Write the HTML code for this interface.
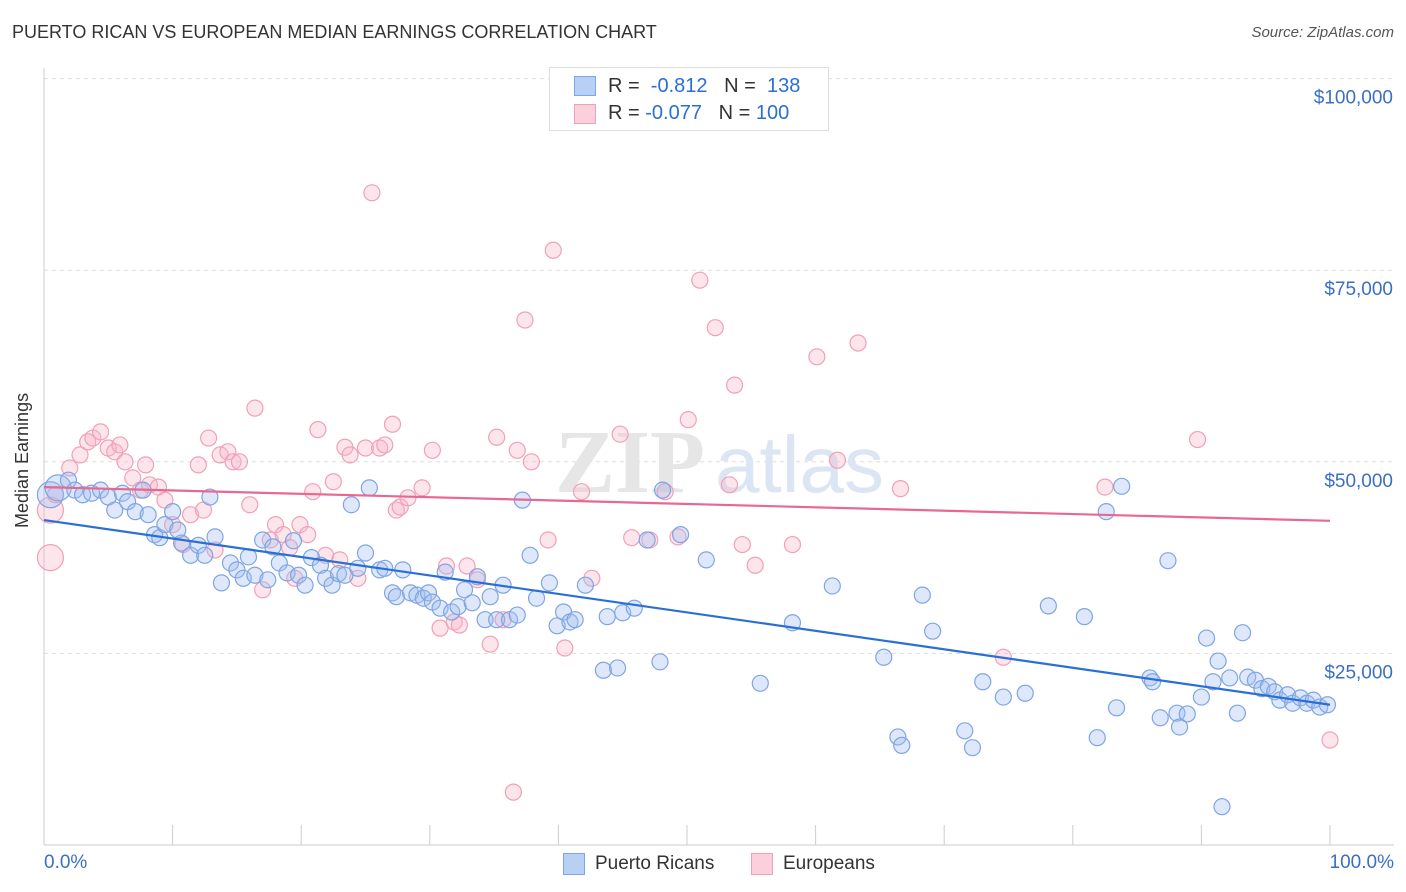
<!DOCTYPE html>
<html><head><meta charset="utf-8"><style>
body{margin:0;background:#fff;font-family:"Liberation Sans",sans-serif}
#wrap{position:relative;width:1406px;height:892px;overflow:hidden}
.t{position:absolute;white-space:nowrap}
</style></head><body>
<div id="wrap">
<div class="t" style="left:12px;top:22px;font-size:18px;color:#333">PUERTO RICAN VS EUROPEAN MEDIAN EARNINGS CORRELATION CHART</div>
<div class="t" style="right:12px;top:24px;font-size:15px;color:#555;font-style:italic">Source: ZipAtlas.com</div>
<svg id="svg" width="1406" height="892" style="position:absolute;left:0;top:0"></svg>
</div>
<script>
const bx=[0.5,1.1,1.9,2.4,3.0,3.7,4.4,5.0,5.5,6.1,6.5,7.1,7.7,8.1,8.6,9.0,9.4,10.0,10.4,10.7,11.4,12.0,12.5,12.9,13.3,13.8,14.5,15.0,15.5,15.9,16.4,17.0,17.4,17.8,18.3,18.9,19.4,19.8,20.3,20.8,21.5,21.9,22.4,22.9,23.4,23.9,24.4,25.0,25.3,26.1,26.5,27.1,27.4,27.9,28.5,29.0,29.5,29.9,30.2,30.8,31.2,31.7,32.2,32.7,33.3,33.7,34.3,34.7,35.2,35.7,36.2,36.8,37.2,37.8,38.3,39.3,39.9,40.4,40.9,41.3,42.1,43.5,43.8,44.6,45.0,45.9,46.9,47.9,48.1,49.5,51.5,55.7,58.2,61.3,65.3,66.4,66.7,68.3,69.1,71.6,72.2,73.0,74.6,76.3,78.1,80.9,81.9,82.6,83.4,83.8,86.0,86.2,86.8,87.4,88.1,88.3,88.9,90.0,90.4,90.9,91.3,91.6,92.2,92.8,93.2,93.6,94.2,94.7,95.2,95.7,96.1,96.7,97.1,97.7,98.2,98.7,99.2,99.8];
const by=[45.7,46.6,47.6,46.3,45.7,45.9,46.3,45.4,43.7,45.9,44.8,43.5,46.3,43.1,40.5,40.1,41.8,43.5,41.1,39.4,37.8,39.1,37.8,45.4,40.2,34.2,36.8,35.9,34.8,37.6,35.2,39.8,34.6,38.9,36.8,35.5,39.7,35.2,33.9,37.5,36.5,34.8,33.9,35.4,35.2,44.4,36.1,38.1,46.6,35.9,36.1,32.9,32.4,35.9,32.9,32.6,32.2,32.9,31.7,30.9,35.6,30.4,31.1,33.3,31.6,35.0,29.4,32.4,29.4,33.9,29.4,30.0,45.0,37.8,32.2,34.2,28.6,30.4,29.1,29.4,33.9,22.8,29.8,23.1,30.3,30.9,39.8,23.9,46.3,40.5,37.2,21.1,29.0,33.8,24.5,14.1,13.0,32.6,27.9,14.9,12.7,21.3,19.3,19.8,31.2,29.8,14.0,43.5,17.9,46.8,21.8,21.3,16.6,37.1,17.2,15.4,17.1,19.3,27.0,21.3,24.0,5.0,21.8,17.2,27.7,21.9,21.5,20.4,20.7,20.0,18.9,19.6,18.5,19.2,18.5,18.9,18.0,18.3];
const px=[0.5,0.5,0.9,2.0,2.8,3.4,3.8,4.4,5.0,5.5,5.9,6.3,6.9,7.5,7.9,8.2,8.9,9.4,10.0,10.8,11.4,12.0,12.4,12.8,13.3,13.7,14.3,14.7,15.2,16.0,16.4,17.0,17.6,18.0,18.6,19.1,19.5,19.9,20.5,20.9,21.3,21.9,22.5,23.0,23.4,23.8,24.4,25.0,25.5,26.1,26.5,27.1,27.4,27.7,28.3,29.4,30.2,30.8,31.3,31.9,32.3,32.9,33.7,34.7,35.2,35.7,36.5,36.8,37.4,37.9,39.2,39.6,40.5,41.8,42.6,44.8,45.7,47.1,48.3,49.3,50.1,51.0,52.2,53.3,53.7,54.3,55.3,58.2,60.1,61.7,63.3,66.6,74.6,82.5,89.7,100];
const py=[43.7,37.5,45.7,49.2,50.9,52.6,53.1,53.9,51.8,51.3,52.2,50.0,47.9,46.3,49.6,47.0,46.7,45.0,41.8,39.2,43.1,49.6,43.7,53.1,38.5,50.9,51.3,50.0,50.0,44.4,57.0,33.3,39.8,41.8,40.5,38.8,34.8,41.8,40.5,46.1,54.2,37.8,47.4,37.2,51.9,50.9,34.8,51.8,85.1,51.8,52.2,54.9,43.7,44.1,45.3,46.6,51.5,28.3,36.4,29.1,28.7,36.4,34.6,26.2,53.2,29.4,6.9,51.5,68.5,50.0,39.8,77.6,25.7,46.1,34.8,53.6,40.1,39.8,46.1,40.2,55.5,73.7,67.5,47.0,60.0,39.2,36.5,39.2,63.7,50.2,65.5,46.5,24.5,46.7,52.9,13.7];
const blueTrend=[42.4,18.3];
const pinkTrend=[46.7,42.3];
const yTicks=[25,50,75,100];
const yTickLabels=["$25,000","$50,000","$75,000","$100,000"];
const X0=44,X1=1330,Y0=845,PXK=191.6/25;
const sx=v=>X0+(X1-X0)*v/100, sy=v=>Y0-v*PXK;
const S=document.getElementById('svg'),NS='http://www.w3.org/2000/svg';
function mk(t,a,p){const e=document.createElementNS(NS,t);for(const k in a)e.setAttribute(k,a[k]);(p||S).appendChild(e);return e;}
// grid
yTicks.forEach((v,i)=>{
 const g=mk('line',{x1:X0,x2:1394,y1:sy(v),y2:sy(v),stroke:'#ddd','stroke-dasharray':'4,4'});
 
 
 const t=mk('text',{x:1393,y:sy(v)+25,'text-anchor':'end','font-size':19,fill:'#3b6fc4','font-family':'Liberation Sans'});
 t.textContent=yTickLabels[i];
 
 
});
mk('line',{x1:X0,x2:X0,y1:68,y2:Y0,stroke:'#ccc'});
mk('line',{x1:X0,x2:1394,y1:Y0,y2:Y0,stroke:'#ccc'});
for(let i=0;i<=10;i++){const l=mk('line',{x1:sx(i*10),x2:sx(i*10),y1:825,y2:Y0,stroke:'#ccc'});
 
 }
// watermark
const w=mk('text',{x:555,y:492,'font-size':90,fill:'#e6e6e6','font-family':'Liberation Serif','font-weight':'bold'});w.textContent='ZIP';
const w2=mk('text',{x:715,y:492,'font-size':80,fill:'#dbe5f3','font-family':'Liberation Sans'});w2.textContent='atlas';
function dots(xs,ys,fill,stroke,name){xs.forEach((x,i)=>{
 const r=(x<1.2&&i<2)?13:8;
 const c=mk('circle',{cx:sx(x),cy:sy(ys[i]),r:r,fill:fill,stroke:stroke,'stroke-width':1.2});
 
 });}
dots(px,py,'rgba(248,180,200,0.35)','#f0a0b8','european-point');
dots(bx,by,'rgba(160,190,240,0.35)','#7fa5e3','puerto-rican-point');
const bl=mk('line',{x1:sx(0),y1:sy(blueTrend[0]),x2:sx(100),y2:sy(blueTrend[1]),stroke:'#2a6fd6','stroke-width':2.2});


const pl=mk('line',{x1:sx(0),y1:sy(pinkTrend[0]),x2:sx(100),y2:sy(pinkTrend[1]),stroke:'#e8688f','stroke-width':2.2});


</script>
<div class="t" style="left:12px;top:528px;transform:rotate(-90deg);transform-origin:0 0;font-size:18px;color:#333">Median Earnings</div>
<div class="t" style="left:44px;top:852px;font-size:19px;color:#3b6fc4">0.0%</div>
<div class="t" style="right:12px;top:852px;font-size:19px;color:#3b6fc4">100.0%</div>
<div style="position:absolute;left:549px;top:67px;width:278px;height:62px;border:1px solid #ddd;background:#fff;font-size:20px">
 <div class="t" style="left:24px;top:8px;width:20px;height:18px;background:#b9d0f5;border:1px solid #7fa5e3"></div>
 <div class="t" style="left:58px;top:7px;color:#333">R = <span style="color:#2a6fd6">&nbsp;-0.812</span>&nbsp;&nbsp;&nbsp;N = <span style="color:#2a6fd6">&nbsp;138</span></div>
 <div class="t" style="left:24px;top:36px;width:20px;height:18px;background:#fbcfdc;border:1px solid #f0a0b8"></div>
 <div class="t" style="left:58px;top:34px;color:#333">R = <span style="color:#2a6fd6">-0.077</span>&nbsp;&nbsp;&nbsp;N = <span style="color:#2a6fd6">100</span></div>
</div>
<div class="t" style="left:563px;top:853px;width:20px;height:20px;background:#b9d0f5;border:1px solid #7fa5e3"></div>
<div class="t" style="left:595px;top:853px;font-size:19px;color:#333">Puerto Ricans</div>
<div class="t" style="left:751px;top:853px;width:20px;height:20px;background:#fbcfdc;border:1px solid #f0a0b8"></div>
<div class="t" style="left:783px;top:853px;font-size:19px;color:#333">Europeans</div>
</body></html>
